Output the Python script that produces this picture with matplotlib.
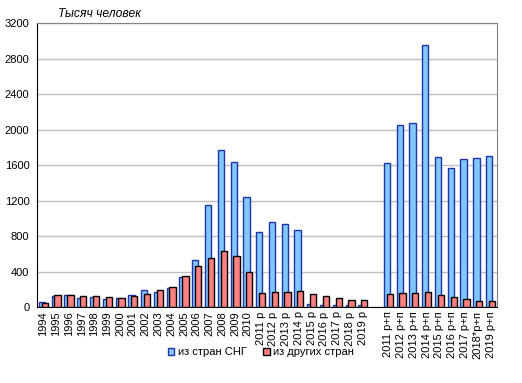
import numpy as np
import matplotlib
matplotlib.use('Agg')
import matplotlib.pyplot as plt

plt.rcParams['font.family'] = ['Liberation Sans', 'DejaVu Sans']

# Категории (пустая строка - разрыв между группами)
labels = ['1994', '1995', '1996', '1997', '1998', '1999', '2000', '2001', '2002',
          '2003', '2004', '2005', '2006', '2007', '2008', '2009', '2010',
          '2011 р', '2012 р', '2013 р', '2014 р', '2015 р', '2016 р', '2017 р',
          '2018 р', '2019 р', '',
          '2011 р+п', '2012 р+п', '2013 р+п', '2014 р+п', '2015 р+п', '2016 р+п',
          '2017 р+п', '2018*р+п', '2019 р+п']

# из стран СНГ, тыс. человек
sng = [56, 128, 139, 105, 109, 94, 105, 139, 196,
       173, 218, 342, 534, 1155, 1774, 1637, 1245,
       852, 964, 942, 864, 34, 22, 22, 22, 22, np.nan,
       1619, 2048, 2071, 2951, 1687, 1562, 1664, 1675, 1698]

# из других стран, тыс. человек
other = [45, 139, 139, 128, 128, 117, 105, 128, 150,
         196, 230, 354, 467, 557, 637, 572, 393,
         157, 168, 168, 179, 146, 123, 101, 79, 79, np.nan,
         151, 162, 162, 173, 139, 117, 94, 72, 72]

x = np.arange(len(labels))

fig = plt.figure(figsize=(5.22, 3.83), dpi=100)
ax = fig.add_axes([0.071, 0.198, 0.881, 0.742])

w = 0.49
ax.bar(x - 0.11, sng, width=w, color='#80C8FF', edgecolor='#2233AA',
       linewidth=1.0, label='из стран СНГ', zorder=2)
ax.bar(x + 0.11, other, width=w, color='#FF8080', edgecolor='#000000',
       linewidth=1.0, label='из других стран', zorder=3)

ax.set_xlim(-0.5, len(labels) - 0.5)
ax.set_ylim(0, 3200)
ax.set_yticks(range(0, 3201, 400))
ax.yaxis.grid(True, color='#C0C0C0', linewidth=1)
ax.set_axisbelow(True)

ax.set_xticks(x)
ax.set_xticklabels(labels, rotation=90, fontsize=8)
ax.tick_params(axis='x', length=0, pad=3)
ax.tick_params(axis='y', length=0, labelsize=8, pad=5.5)

for s in ['top', 'right']:
    ax.spines[s].set_color('#808080')
for s in ['left', 'bottom']:
    ax.spines[s].set_color('black')

fig.text(0.111, 0.963, 'Тысяч человек', fontsize=8.7, style='italic', va='center')

fig.legend(loc='center', bbox_to_anchor=(0.5, 0.08), ncol=2, frameon=False,
           fontsize=8, handlelength=0.6, handleheight=0.6, handletextpad=0.3,
           columnspacing=1.5)

fig.savefig('out.png', dpi=100)
